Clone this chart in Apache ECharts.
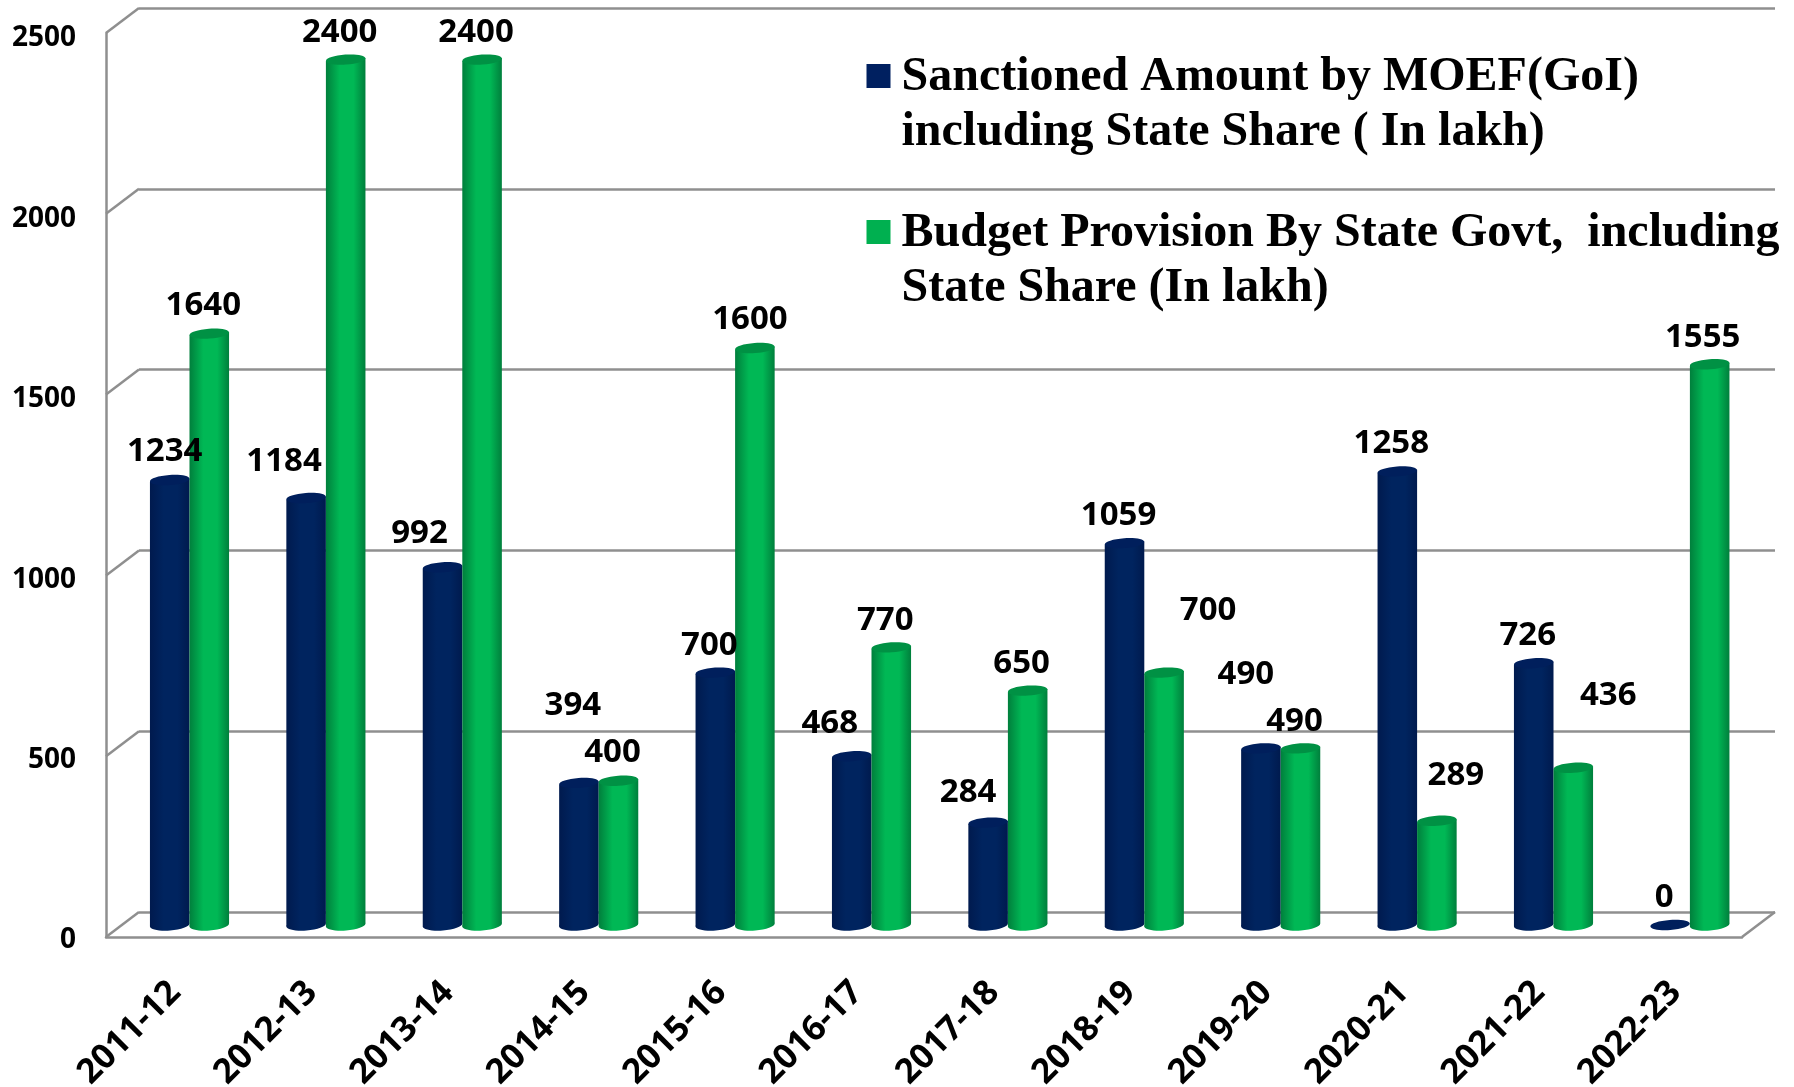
<!DOCTYPE html>
<html>
<head>
<meta charset="utf-8">
<title>Sanctioned amount and budget provision</title>
<script src="https://cdn.jsdelivr.net/npm/echarts@6/dist/echarts.min.js"></script>
<style>
  html, body { margin: 0; padding: 0; background: #fff; }
  #chart { width: 1794px; height: 1087px; }
</style>
</head>
<body>
<div id="chart"></div>
<script>
const categories = ["2011-12", "2012-13", "2013-14", "2014-15", "2015-16", "2016-17", "2017-18", "2018-19", "2019-20", "2020-21", "2021-22", "2022-23"];
const sanctioned = [1234, 1184, 992, 394, 700, 468, 284, 1059, 490, 1258, 726, 0];
const budget = [1640, 2400, 2400, 400, 1600, 770, 650, 700, 490, 289, 436, 1555];
const yTicks = [0, 500, 1000, 1500, 2000, 2500];
const sanctionedName = "Sanctioned Amount by MOEF(GoI)\nincluding State Share ( In lakh)";
const budgetName = "Budget Provision By State Govt,  including\nState Share (In lakh)";

// hand placed value labels, [dx, dy] from the top of each bar
const sanctionedLabelOffset = [[-5, -28], [-22, -36], [-23, -34], [-6, -77], [-6, -27], [-22, -33], [-20, -30], [-6, -28], [-15, -74], [-6, -28], [-6, -28], [-6, -27]];
const budgetLabelOffset = [[-6, -28], [-6, -27], [-6, -27], [-6, -28], [-5, -28], [-6, -27], [-6, -27], [44, -62], [-6, -27], [19, -45], [35, -72], [-7, -27]];

const labelFont = "bold 33px 'Noto Sans'";
const gridColor = "#8f8f8f";
const depthX = 33;
const depthY = -25;
const barRatio = 0.29;
// tall box so the square lines up with the first line of the two line legend text
const legendIcon = "path://M0,0L0,0M0,14H24V38H0ZM0,110L0,110";

function cylinder(side, edge, middle, topColor, offsets) {
  return function (params, api) {
    const i = api.value(0);
    const v = api.value(1);
    const top = api.coord([i, v]);
    const base = api.coord([i, 0]);
    const band = api.size([1, 0])[0];
    const w = band * barRatio;
    const x0 = top[0] + (side < 0 ? -w : 0);
    const x1 = x0 + w;
    const cx = x0 + w / 2;
    const rx = w / 2;
    const fill = {
      type: "linear", x: 0, y: 0, x2: 1, y2: 0,
      colorStops: [
        { offset: 0, color: edge },
        { offset: 0.35, color: middle },
        { offset: 0.7, color: middle },
        { offset: 1, color: edge },
      ],
    };
    const off = offsets[i];
    const children = [];
    if (v > 0) {
      children.push({
        type: "ellipse",
        shape: { cx: cx, cy: base[1], rx: rx, ry: 5.5 },
        originX: cx, originY: base[1], rotation: 0.07,
        style: { fill: fill },
      });
      children.push({
        type: "polygon",
        shape: { points: [[x0, top[1] + 1.5], [x1, top[1] - 1.5], [x1, base[1] - 1.5], [x0, base[1] + 1.5]] },
        style: { fill: fill },
      });
    }
    children.push({
      type: "ellipse",
      shape: { cx: cx, cy: top[1], rx: rx, ry: 5 },
      originX: cx, originY: top[1], rotation: 0.07,
      style: { fill: topColor },
    });
    children.push({
      type: "text",
      z2: 50,
      style: {
        text: String(v),
        x: cx + off[0], y: top[1] + off[1],
        align: "center", verticalAlign: "middle",
        font: labelFont, fill: "#000",
      },
    });
    return { type: "group", children: children };
  };
}

// diagonal edges of the side wall and the floor
function wallEdges(params, api) {
  const v = api.value(0);
  const p = api.coord([0, v]);
  const lines = [[p, [p[0] + depthX, p[1] + depthY]]];
  if (v === 0) {
    const q = api.coord([1, 0]);
    lines.push([q, [q[0] + depthX, q[1] + depthY]]);
  }
  return {
    type: "group",
    children: lines.map(function (l) {
      return {
        type: "line",
        shape: { x1: l[0][0], y1: l[0][1], x2: l[1][0], y2: l[1][1] },
        style: { stroke: gridColor, lineWidth: 2.5 },
      };
    }),
  };
}

const chart = echarts.init(document.getElementById("chart"));
chart.setOption({
  animation: false,
  backgroundColor: "#fff",
  legend: {
    left: 861.5,
    top: 45,
    orient: "vertical",
    icon: legendIcon,
    itemWidth: 24,
    itemHeight: 110,
    itemGap: 46,
    data: [sanctionedName, budgetName],
    textStyle: {
      fontFamily: "Liberation Serif",
      fontWeight: "bold",
      fontSize: 48,
      lineHeight: 55,
      color: "#000",
      padding: [0, 0, 0, 6],
    },
  },
  grid: [
    { left: 106, top: 33, width: 1636, height: 904, outerBoundsMode: "none" }, // front plane
    { left: 139, top: 8, width: 1636, height: 904, outerBoundsMode: "none" }, // back wall
    { left: 121.3, top: 23.5, width: 1636.8, height: 901.5, outerBoundsMode: "none" }, // bars
    { left: 106, top: 38.5, width: 1636, height: 902, outerBoundsMode: "none" }, // y labels sit a little under the ticks
  ],
  xAxis: [
    {
      gridIndex: 0, type: "value", min: 0, max: 1,
      axisLine: { show: true, onZero: false, lineStyle: { color: gridColor, width: 2.5 } },
      axisTick: { show: false }, axisLabel: { show: false }, splitLine: { show: false },
    },
    { gridIndex: 1, type: "value", min: 0, max: 1, show: false },
    {
      gridIndex: 2, type: "category", data: categories,
      axisLine: { show: false }, axisTick: { show: false },
      axisLabel: {
        interval: 0, rotate: 45, margin: 48, color: "#000", padding: [0, 20, 0, 0],
        fontFamily: "Noto Sans", fontWeight: "bold", fontSize: 34.5,
      },
    },
    { gridIndex: 3, type: "value", min: 0, max: 1, show: false },
  ],
  yAxis: [
    {
      gridIndex: 0, type: "value", min: 0, max: 2500, interval: 500,
      axisLine: { show: true, lineStyle: { color: gridColor, width: 2.5 } },
      axisTick: { show: false }, axisLabel: { show: false }, splitLine: { show: false },
    },
    {
      gridIndex: 1, type: "value", min: 0, max: 2500, interval: 500,
      axisLine: { show: false }, axisTick: { show: false }, axisLabel: { show: false },
      splitLine: { show: true, lineStyle: { color: gridColor, width: 2.5 } },
    },
    { gridIndex: 2, type: "value", min: 0, max: 2500, show: false },
    {
      gridIndex: 3, type: "value", min: 0, max: 2500, interval: 500,
      axisLine: { show: false }, axisTick: { show: false }, splitLine: { show: false },
      axisLabel: {
        margin: 30, color: "#000", fontFamily: "Noto Sans", fontWeight: "bold", fontSize: 28,
        formatter: function (v) { return String(v); },
      },
    },
  ],
  series: [
    {
      type: "custom", xAxisIndex: 0, yAxisIndex: 0, silent: true, z: 1,
      data: yTicks.map(function (t) { return [t]; }),
      encode: { y: 0 },
      renderItem: wallEdges,
    },
    {
      name: sanctionedName,
      type: "custom", xAxisIndex: 2, yAxisIndex: 2,
      itemStyle: { color: "#002060" },
      data: sanctioned.map(function (v, i) { return [i, v]; }),
      encode: { x: 0, y: 1 },
      renderItem: cylinder(-1, "#001a4e", "#00245f", "#001f5c", sanctionedLabelOffset),
    },
    {
      name: budgetName,
      type: "custom", xAxisIndex: 2, yAxisIndex: 2,
      itemStyle: { color: "#00B050" },
      data: budget.map(function (v, i) { return [i, v]; }),
      encode: { x: 0, y: 1 },
      renderItem: cylinder(1, "#007f3c", "#00b855", "#009144", budgetLabelOffset),
    },
  ],
});
window.addEventListener("resize", function () { chart.resize(); });
</script>
</body>
</html>
